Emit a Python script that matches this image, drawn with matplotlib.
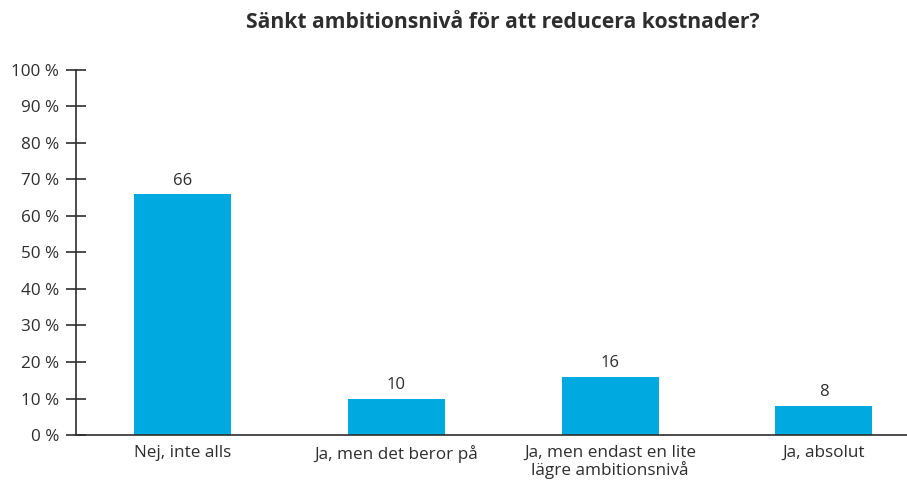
import matplotlib
matplotlib.use("Agg")
import matplotlib.pyplot as plt
import numpy as np

# --- Data ---
categories = ["Nej, inte alls", "Ja, men det beror på",
              "Ja, men endast en lite\nlägre ambitionsnivå", "Ja, absolut"]
values = [66, 10, 16, 8]
yticks = [0, 10, 20, 30, 40, 50, 60, 70, 80, 90, 100]
title = "Sänkt ambitionsnivå för att reducera kostnader?"

BAR_COLOR = "#00A9E0"
TEXT_COLOR = "#2e2e2e"

plt.rcParams["font.family"] = ["Open Sans", "DejaVu Sans"]

fig = plt.figure(figsize=(9.07, 4.82), dpi=100)
ax = fig.add_axes([0.0838, 0.0975, 0.9162, 0.7573])

x = np.arange(len(categories))
bars = ax.bar(x, values, width=0.454, color=BAR_COLOR, zorder=2)

for b, v in zip(bars, values):
    ax.text(b.get_x() + b.get_width() / 2, v + 1.5, f"{v}",
            ha="center", va="bottom", fontsize=12, color=TEXT_COLOR)

ax.set_xlim(-0.5, 3.389)
ax.set_ylim(0, 100)
ax.set_yticks(yticks)
ax.set_yticklabels([f"{t} %" for t in yticks])
ax.set_xticks(x)
ax.set_xticklabels(categories)

for s in ["top", "right"]:
    ax.spines[s].set_visible(False)
for s in ["left", "bottom"]:
    ax.spines[s].set_color(TEXT_COLOR)
    ax.spines[s].set_linewidth(1.2)

ax.tick_params(axis="y", direction="inout", length=14, width=1.2,
               color=TEXT_COLOR, labelcolor=TEXT_COLOR, labelsize=12.3, pad=5)
ax.tick_params(axis="x", length=0, labelcolor=TEXT_COLOR, labelsize=12.3, pad=7)
for lbl in ax.get_xticklabels():
    lbl.set_linespacing(1.0)

fig.text(0.554, 0.953, title, ha="center", va="center",
         fontsize=15.2, fontweight="bold", color=TEXT_COLOR)

fig.savefig("out.png", dpi=100)
